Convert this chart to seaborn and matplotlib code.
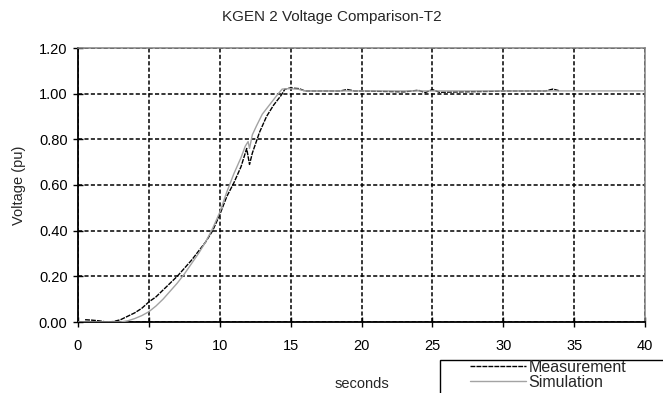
import matplotlib
matplotlib.use("Agg")
import matplotlib.pyplot as plt
from matplotlib.patches import Rectangle
import seaborn as sns
import pandas as pd

# Measurement data (seconds, pu)
meas_t = [0.5, 1.0, 1.5, 2.0, 2.5, 3.0, 3.5, 4.0, 4.5, 5.0, 5.5, 6.0, 6.5, 7.0, 7.5, 8.0,
          8.5, 9.0, 9.5, 10.0, 10.5, 11.0, 11.5, 11.9, 12.1, 12.3, 12.8, 13.3, 13.8,
          14.3, 14.6, 15.0, 15.6, 16.0, 18.5, 19.0, 19.5, 20.0, 23.0, 24.0, 24.5, 25.0,
          25.5, 27.0, 29.0, 30.0, 33.0, 33.5, 34.0]
meas_v = [0.01, 0.008, 0.005, 0.0, 0.002, 0.01, 0.025, 0.04, 0.06, 0.088, 0.11, 0.14,
          0.17, 0.2, 0.235, 0.27, 0.31, 0.35, 0.4, 0.47, 0.55, 0.61, 0.68, 0.76, 0.69,
          0.74, 0.83, 0.9, 0.95, 0.99, 1.02, 1.025, 1.022, 1.012, 1.012, 1.018, 1.012,
          1.012, 1.008, 1.015, 1.005, 1.018, 1.006, 1.008, 1.01, 1.012, 1.012, 1.02, 1.012]

# Simulation data
sim_t = [0.0, 3.0, 3.5, 4.0, 4.5, 5.0, 5.5, 6.0, 6.5, 7.0, 7.5, 8.0, 8.5, 9.0, 9.5, 10.0,
         10.5, 11.0, 11.5, 11.8, 12.0, 12.1, 12.3, 12.6, 13.0, 13.5, 14.0, 14.4, 14.8,
         15.5, 16.0, 40.0]
sim_v = [0.0, 0.0, 0.005, 0.015, 0.028, 0.045, 0.07, 0.1, 0.135, 0.17, 0.21, 0.255, 0.3,
         0.35, 0.41, 0.48, 0.57, 0.65, 0.72, 0.77, 0.79, 0.76, 0.82, 0.86, 0.91, 0.95,
         0.99, 1.02, 1.022, 1.02, 1.012, 1.012]

x_ticks = [0, 5, 10, 15, 20, 25, 30, 35, 40]
y_ticks = [0.0, 0.2, 0.4, 0.6, 0.8, 1.0, 1.2]

sns.set_style("white")
plt.rcParams['font.family'] = ['Liberation Sans', 'DejaVu Sans']

df_m = pd.DataFrame({"t": meas_t, "v": meas_v})
df_s = pd.DataFrame({"t": sim_t, "v": sim_v})

W, H = 663, 393
fig = plt.figure(figsize=(W / 100, H / 100), dpi=100)
ax = fig.add_axes([78 / W, 1 - 322 / H, (645 - 78) / W, (322 - 48) / H])

sns.lineplot(data=df_m, x="t", y="v", ax=ax, color="black", linewidth=1.0,
             label="Measurement", zorder=3)
sns.lineplot(data=df_s, x="t", y="v", ax=ax, color="#a3a3a3", linewidth=1.0,
             label="Simulation", zorder=4)
h_m, h_s = ax.lines[0], ax.lines[1]
h_m.set_dashes([3.5, 0.8])

ax.set_xlim(0, 40)
ax.set_ylim(0, 1.2)
ax.set_xticks(x_ticks)
ax.set_yticks(y_ticks)
ax.set_yticklabels([f"{v:.2f}" for v in y_ticks])
ax.tick_params(axis="both", direction="inout", length=7, width=1, labelsize=10.5,
               colors="black", bottom=True, left=True)
ax.tick_params(axis="x", pad=9)
ax.tick_params(axis="y", pad=4)
ax.grid(True, color="black", linestyle=(0, (2.7, 1.5)), linewidth=1.1)
ax.set_axisbelow(True)
for s in ["left", "bottom"]:
    ax.spines[s].set_color("black")
    ax.spines[s].set_linewidth(1.3)
for s in ["top", "right"]:
    ax.spines[s].set_color("#808080")
    ax.spines[s].set_linewidth(1.1)

ax.set_xlabel("seconds", fontsize=10.5, labelpad=17)
ax.set_ylabel("Voltage (pu)", fontsize=10.5, labelpad=9)
fig.text(0.5, 1 - 17 / H, "KGEN 2 Voltage Comparison-T2", fontsize=11,
         ha="center", va="center")

ax.get_legend().remove()
fig.patches.append(Rectangle((440 / W, -0.1), 0.5, 0.1 + 1 - 360 / H,
                             transform=fig.transFigure, facecolor="white",
                             edgecolor="black", linewidth=1.0, zorder=1))
leg = fig.legend([h_m, h_s], ["Measurement", "Simulation"], loc="upper left",
                 bbox_to_anchor=(470 / W, 1 - 360 / H), frameon=False,
                 fontsize=11.5, handlelength=3.5, handletextpad=0.15,
                 labelspacing=0.0, borderpad=0, borderaxespad=0)

fig.savefig("out.png", dpi=100)
